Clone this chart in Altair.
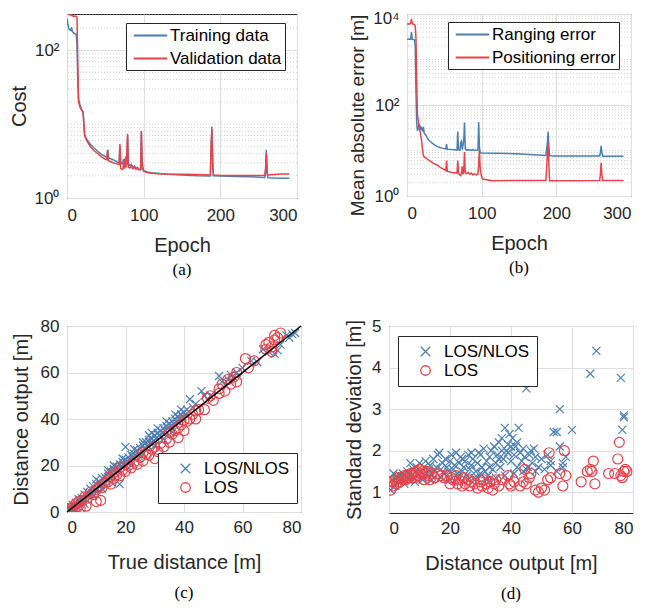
import altair as alt
import pandas as pd

BLUE = "#4b7fb3"
RED = "#e8424a"
INK = "#262626"
SANS = "Liberation Sans"
SERIF = "Liberation Serif"

# ---------------- (a) cost vs epoch ----------------
epoch_train = [0,1,2,3,5,6,7,9,12,13,14,15,17,19,21,22,23,25,30,35,40,45,50,52,53,54,60,65,68,69,
               70,72,74,75,77,78,79,80,82,84,86,88,90,92,94,96,97,98,100,105,110,120,130,150,170,187,188,189,190,191,
               200,220,240,258,259,260,261,262,270,280,290]
cost_train = [270,225,205,192,185,205,180,170,165,120,40,22,18,16,14.5,10,7.2,6.4,5.4,4.8,
              4.3,3.9,3.65,3.55,4.5,3.5,3.3,3.1,3.0,5.0,3.0,2.9,3.4,2.85,3.7,2.8,6.8,2.9,2.75,2.85,
              2.6,2.7,2.55,2.6,2.45,2.4,7.8,2.5,2.35,2.25,2.2,2.15,2.1,2.05,2.0,1.98,5.0,9.3,3.0,2.0,
              1.98,1.96,1.94,1.9,2.2,4.5,2.2,1.88,1.86,1.85,1.85]
epoch_val = [0,2,4,5,6,8,12,13,14,15,17,19,21,22,23,24,25,30,35,40,45,50,52,53,54,60,65,68,69,70,
             72,73,74,75,76,77,78,79,80,82,84,86,88,90,92,94,96,97,98,100,105,110,120,130,150,170,187,188,189,190,
             191,200,220,240,258,259,260,261,262,270,280,290]
cost_val = [350,320,300,360,300,290,290,280,80,20,17,15.5,14.5,10,7,6.6,6.2,5.0,4.4,4.0,
            3.6,3.35,3.3,4.5,3.2,3.0,2.9,2.85,5.4,2.5,2.45,2.5,3.0,2.5,3.4,2.6,3.9,7.4,2.6,2.55,
            2.7,2.5,2.6,2.45,2.5,2.4,2.45,8.1,3.0,2.3,2.2,2.17,2.13,2.11,2.1,2.08,2.05,5.0,8.6,3.0,
            2.05,2.03,2.02,2.02,2.03,2.5,4.0,2.3,2.05,2.08,2.12,2.12]

# ---------------- (b) mean absolute error vs epoch ----------------
epoch_rng = [0,3,5,6,7,9,10,11,12,13,14,15,16,17,18,19,20,21,22,23,25,28,30,35,40,45,50,52,53,54,
             60,66,67,68,69,71,72,73,74,76,77,78,80,84,86,88,90,93,95,96,97,98,100,120,146,170,186,188,189,190,
             191,200,230,258,259,260,261,262,290]
err_rng = [2800,2800,2800,4000,2800,2750,2700,2000,200,40,27,30,38,36,28,32,30,26,33,24,
           22,18,16.4,14,12.3,11.5,11,10.8,13.9,10.7,10.5,10.3,10.3,26,10.3,10.2,15,16,10.5,16.5,
           41,11,10.2,10.4,10,10.5,10,10.3,10,42,12,9,8.8,8.7,8.5,8.1,7.8,15,26,12,
           7.7,7.6,7.6,7.6,9,12.6,9,7.5,7.5]
epoch_pos = [0,4,5,6,7,10,11,12,13,14,16,18,19,20,21,22,24,26,30,35,40,45,50,52,53,54,60,67,68,69,
             72,73,74,75,76,77,78,80,82,84,86,88,90,93,95,96,97,98,100,101,105,114,146,186,188,189,190,191,200,258,
             259,260,261,262,290]
err_pos = [6000,6000,6500,7800,6200,5800,5500,3000,300,60,35,24,19.5,14,10,7.7,7.0,6.7,6.0,5.3,
           4.8,4.2,3.8,3.6,6.0,3.5,3.3,3.2,6.0,3.1,2.8,3.3,4.5,3.0,3.5,9.3,3.2,3.1,3.3,3.0,
           3.2,2.9,3.1,2.9,3.0,5,9.9,4,2.6,2.36,2.3,2.17,2.2,2.2,8,14.8,5,2.17,2.17,2.18,
           3,5.4,3,2.18,2.18]

# ---------------- (c) distance output vs true distance ----------------
c_los_nlos = [(0.5,1.5),(1,2.5),(1.5,0.8),(2,3),(2.5,1.5),(3,4),(3.5,2.5),(4,5.5),(4.5,3.5),(5,6),(5.5,4.5),
              (6,7.5),(6.5,5.5),(7,8.5),(7.5,7),(8,10),(8.5,8),(9,11),(9.5,9.5),(10,12),(10.5,10),(11,13),
              (11.5,11.5),(12,14.5),(12.5,12.5),(13,15),(13.5,14),(14,16.5),(14.5,15),(15,17.5),(15.5,16),
              (16,18.5),(16.5,17),(17,19.5),(17.5,18),(18,12),(18,20.5),(18.5,19.5),(19,21.5),(19.5,20),
              (20,28),(20,22.5),(20.5,21),(21,23.5),(21.5,22),(22,24.5),(22.5,23.5),(23,25),(23.5,24),
              (24,26.5),(24.5,25),(25,27.5),(25.5,26),(26,28.5),(26.5,27.5),(27,30),(27.5,28.5),(28,31),
              (28,33),(28.5,29.5),(29,31.5),(29.5,30.5),(30,33),(30.5,31.5),(31,34),(31.5,33),(32,35),
              (32.5,34),(33,36),(33.5,35),(34,37),(34.5,36),(35,38),(35.5,37),(36,39),(36.5,38),(37,40),
              (37.5,39),(38,41),(38.5,40),(39,42),(39.5,41),(40,43),(40.5,42),(41,44),(42,48.5),(43,45),
              (44,46.5),(46,52),(47,50),(49,50),(52,58.5),(53,56),(55,57),(56,59),(57,58),(58,60),(60,62),
              (63,65),(65,64.5),(67,70),(69,69),(71,68),(72,69.5),(73,72),(75,76),(76,75),(77,76.5),(78,77),
              (3,1.5),(6,3.5),(9,7),(12,10),(15,13),(22,20),(25,23.5),(30,28.5),(33,31.5),(36,34.5),
              (10,14),(14,18),(16,20),(19,23),(23,27),(26,30),(29,34),(31,36),(34,39),(37,42),(39,44)]
c_los = [(0.5,0.5),(1,1.5),(1.5,0.5),(2,2),(2.5,1),(3,3.5),(3.5,2),(4,4.5),(4.5,1.5),(5,5),(6,6.5),
         (6.5,2.5),(7,6),(8,8.5),(9,7.5),(10,9.5),(10,4.5),(11,11),(11.5,5),(12,10.5),(13,12.5),(14,13),
         (14.5,15),(15,12),(16,14.5),(17,16),(18,15.5),(19,18),(20,17.5),(21,20),(22,19),(23,21.5),
         (24,20.5),(25,23.5),(26,22),(27,25),(28,24.5),(29,27),(30,23),(30,28),(31,26),(32,29.5),(33,28),
         (34,31.5),(35,30),(36,33.5),(37,35),(38,32),(38,36),(39,37.5),(40,35),(41,39),(42,40),(43,42),
         (44,40),(45,44),(47,44),(48,49),(49,50),(50,48),(52,51),(52,53),(53,55),(54,52),(55,57),(56,55),
         (57,58),(58,60),(58,56),(61,66),(62,62),(64,65),(68,70),(68,72),(69,73),(70,71),(71,74),(71,76),
         (72,75),(73,77),(70,69),(16,17),(18,19),(26,25.5),(35,34.5),(40,39.5),(44,43.5)]
diag_ends = [0, 80]

# ---------------- (d) standard deviation vs distance output ----------------
d_los_nlos = [(0.5,1.05),(1,1.3),(1.5,1.45),(2,1.2),(2.5,1.35),(3,1.25),(3.5,1.4),(4,1.3),(4.5,1.45),(5,1.2),
              (5.5,1.35),(6,1.5),(6.5,1.3),(7,1.7),(7.5,1.4),(8,1.55),(8.5,1.25),(9,1.6),(9.5,1.45),(10,1.7),
              (10.5,1.5),(11,1.35),(11.5,1.6),(12,1.75),(12.5,1.45),(13,1.55),(13.5,1.65),(14,1.4),(14.5,1.8),
              (15,1.5),(15.5,1.6),(16,1.9),(16.5,1.95),(17,1.55),(17.5,1.7),(18,1.45),(18.5,1.8),(19,1.6),
              (19.5,1.5),(20,1.75),(20.5,1.9),(21,1.55),(21.5,1.65),(22,1.95),(22.5,1.45),(23,1.7),(23.5,1.85),
              (24,1.5),(24.5,1.6),(25,1.75),(25.5,1.4),(26,1.9),(26.5,1.55),(27,1.65),(27.5,1.8),(28,1.35),
              (28.5,1.5),(29,1.7),(29.5,1.95),(30,1.45),(30.5,1.6),(31,2.05),(31.5,1.5),(32,1.75),(32.5,1.4),
              (33,1.85),(33.5,2.0),(34,1.55),(34.5,2.1),(35,1.7),(35.5,1.9),(36,2.2),(36.5,1.6),(37,2.3),
              (37.5,1.8),(38,2.55),(38.5,2.0),(39,2.15),(39.5,2.4),(40,1.75),(40.5,2.3),(41,1.9),(41.5,2.1),
              (42,1.6),(42.5,2.55),(43,1.95),(43.5,1.75),(44,2.05),(44.5,1.85),(45,3.5),(45.5,1.6),(46,1.9),
              (46.5,2.0),(47,1.7),(47.5,2.05),(48,1.85),(49,1.6),(50,1.8),(52,1.9),(53,1.75),(54,2.45),
              (55,2.45),(56,3.0),(56,2.1),(57,1.6),(58,1.85),(60,2.5),(66,3.85),(68,4.4),(76,3.75),(77,2.85),
              (77,2.8),(76.5,2.5),(2,1.15),(5,1.3),(8,1.35),(11,1.3),(14,1.3),(17,1.35),(20,1.3),(23,1.35),
              (26,1.3),(29,1.35),(32,1.3),(35,1.35),(38,1.4),(41,1.45),(44,1.5),(24,1.8),(27,1.95),(30,1.9),
              (33,1.6),(36,1.8),(39,1.95),(37,2.0),(40,2.1),(42,2.2),(45,1.55),(48,1.5),(51,1.55),(53,1.65),
              (55,1.5),(57,1.7)]
d_los = [(0.5,1.05),(1,1.25),(1.5,1.15),(2,1.3),(2.5,1.2),(3,1.35),(3.5,1.25),(4,1.35),(4.5,1.3),(5,1.4),
         (5.5,1.3),(6,1.4),(6.5,1.35),(7,1.45),(7.5,1.4),(8,1.45),(8.5,1.35),(9,1.5),(9.5,1.4),(10,1.55),
         (10.5,1.45),(11,1.5),(11.5,1.3),(12,1.45),(12.5,1.5),(13,1.4),(13.5,1.3),(14,1.45),(15,1.35),
         (16,1.45),(17,1.4),(18,1.35),(19,1.4),(20,1.2),(20.5,1.35),(21,1.3),(22,1.4),(22.5,1.2),(23,1.3),
         (24,1.15),(24.5,1.35),(25,1.2),(26,1.3),(26.5,1.15),(27,1.25),(28,1.2),(29,1.1),(30,1.25),
         (30.5,1.15),(31,1.3),(32,1.2),(32.5,1.1),(33,1.25),(34,1.05),(34.5,1.2),(35,1.3),(36,1.15),
         (37,1.3),(39,1.4),(39.5,1.2),(40,1.15),(41,1.25),(43,1.15),(44,1.25),(44.5,1.55),(45,1.2),
         (46,1.35),(46.5,1.45),(48,1.05),(49,1.0),(50,1.1),(51,1.05),(52,1.3),(52.5,1.95),(53,1.35),
         (56,1.45),(57,1.15),(57.5,2.0),(58,1.4),(63,1.25),(65,1.5),(66,1.55),(66.5,1.5),(67,1.75),
         (67.5,1.2),(72,1.45),(74,1.45),(75,1.8),(75.5,2.2),(76,1.4),(76.5,1.35),(77,1.5),(77.5,1.55),(78,1.5)]

# axis tick values / grid values
epoch_ticks = [0, 100, 200, 300]
a_major = [1, 100]
a_minor = [2,3,4,5,6,7,8,9,10,20,30,40,50,60,70,80,90,200,300]
b_major = [1, 100, 10000]
b_minor = [2,3,4,5,6,7,8,9,10,20,30,40,50,60,70,80,90,200,300,400,500,600,700,800,900,
           1000,2000,3000,4000,5000,6000,7000,8000,9000]
dist_ticks = [0, 20, 40, 60, 80]
std_ticks = [1, 2, 3, 4, 5]

XPATH = "M-1,-1L1,1M-1,1L1,-1"
LINE_SYMBOL = "M-2,0L2,0"
POW_EXPR = "datum.value == 1 ? '10\u2070' : datum.value == 100 ? '10\u00b2' : '10\u2074'"
TOP_LABEL_SHIFT = {"condition": {"test": "datum.value == 10000", "value": 4}, "value": 0}


def caption(t, off):
    return alt.TitleParams(t, orient="bottom", font=SERIF, fontSize=17, fontWeight="normal",
                           color="black", anchor="middle", offset=off)


def line_panel(ep1, v1, ep2, v2, names, ydom, ymajor, yminor, ytitle, w, h, lx, ly, cap,
               ytitle_size=20, ytitle_y=None):
    df = pd.concat([pd.DataFrame({"epoch": ep1, "v": v1, "s": names[0]}),
                    pd.DataFrame({"epoch": ep2, "v": v2, "s": names[1]})])
    ys = alt.Scale(type="log", domain=ydom, nice=False)
    xs = alt.Scale(domain=[0, 300], nice=False)
    ykw = dict(values=ymajor, labelExpr=POW_EXPR, title=ytitle, labelPadding=8, titlePadding=5,
               titleFontSize=ytitle_size, labelOffset=TOP_LABEL_SHIFT)
    if ytitle_y is not None:
        ykw["titleY"] = ytitle_y
    yaxis = alt.Axis(**ykw)
    xaxis = alt.Axis(values=epoch_ticks, title="Epoch", labelPadding=9, titlePadding=12)
    minor = alt.Chart(pd.DataFrame({"m": yminor})).mark_rule(
        color="#c6c6c6", strokeDash=[1, 2], strokeWidth=0.8).encode(
        y=alt.Y("m:Q", scale=ys, axis=yaxis))
    leg = alt.Legend(title=None, orient="none", legendX=lx, legendY=ly, symbolType=LINE_SYMBOL,
                     symbolSize=280, symbolStrokeWidth=2, fillColor="white", strokeColor=INK,
                     padding=3, symbolOffset=12, labelOffset=10, labelFontSize=17, labelFont=SANS,
                     labelColor="black", labelLimit=300, rowPadding=5)
    col = alt.Color("s:N", scale=alt.Scale(domain=names, range=[BLUE, RED]), legend=leg)
    enc = dict(
        x=alt.X("epoch:Q", scale=xs, axis=xaxis),
        y=alt.Y("v:Q", scale=ys, axis=yaxis),
        color=col)
    l1 = alt.Chart(df).transform_filter(alt.datum.s == names[0]).mark_line(
        clip=True, strokeWidth=1.5).encode(**enc)
    l2 = alt.Chart(df).transform_filter(alt.datum.s == names[1]).mark_line(
        clip=True, strokeWidth=1.5).encode(**enc)
    return alt.layer(minor, l1, l2).properties(width=w, height=h, title=caption(cap, 7))


def scatter_panel(p_nl, p_los, xtitle, ytitle, ydom, yticks, w, h, lx, ly, cap, ytp, diag=False):
    names = ["LOS/NLOS", "LOS"]
    df = pd.concat([pd.DataFrame({"x": [p[0] for p in p_nl], "y": [p[1] for p in p_nl], "s": names[0]}),
                    pd.DataFrame({"x": [p[0] for p in p_los], "y": [p[1] for p in p_los], "s": names[1]})])
    xs = alt.Scale(domain=[0, 80], nice=False)
    ys = alt.Scale(domain=ydom, nice=False)
    leg = alt.Legend(title=None, orient="none", legendX=lx, legendY=ly, fillColor="white",
                     strokeColor=INK, padding=7, labelFontSize=17, labelFont=SANS, labelColor="black",
                     symbolSize=90, symbolStrokeWidth=1.3, symbolOffset=12, labelOffset=10,
                     rowPadding=1)
    xaxis = alt.Axis(values=dist_ticks, title=xtitle, labelPadding=7, titlePadding=17)
    yaxis = alt.Axis(values=yticks, title=ytitle, labelPadding=8, titlePadding=ytp)
    enc = dict(
        x=alt.X("x:Q", scale=xs, axis=xaxis),
        y=alt.Y("y:Q", scale=ys, axis=yaxis),
        color=alt.Color("s:N", scale=alt.Scale(domain=names, range=[BLUE, RED]), legend=leg),
        shape=alt.Shape("s:N", scale=alt.Scale(domain=names, range=[XPATH, "circle"]), legend=leg))
    p1 = alt.Chart(df).transform_filter(alt.datum.s == names[0]).mark_point(
        filled=False, size=64, strokeWidth=1.2, opacity=1, clip=True).encode(**enc)
    p2 = alt.Chart(df).transform_filter(alt.datum.s == names[1]).mark_point(
        filled=False, size=100, strokeWidth=1.2, opacity=1, clip=True).encode(**enc)
    layers = [p1, p2]
    if diag:
        dl = alt.Chart(pd.DataFrame({"x": diag_ends, "y": diag_ends})).mark_line(
            color="black", strokeWidth=1.5).encode(x=alt.X("x:Q", scale=xs, axis=xaxis),
                                                   y=alt.Y("y:Q", scale=ys, axis=yaxis))
        layers.append(dl)
    return alt.layer(*layers).properties(width=w, height=h, title=caption(cap, 13))


pa = line_panel(epoch_train, cost_train, epoch_val, cost_val, ["Training data", "Validation data"],
                [1, 310], a_major, a_minor, "Cost", 230, 184, 59, 9, "(a)")
pb = line_panel(epoch_rng, err_rng, epoch_pos, err_pos, ["Ranging error", "Positioning error"],
                [1, 10000], b_major, b_minor, "Mean absolute error [m]", 224, 182, 41, 8, "(b)",
                ytitle_size=19, ytitle_y=101)
pc = scatter_panel(c_los_nlos, c_los, "True distance [m]", "Distance output [m]", [0, 80], dist_ticks,
                   234, 186, 91, 127, "(c)", ytp=9, diag=True)
pd_ = scatter_panel(d_los_nlos, d_los, "Distance output [m]", "Standard deviation [m]", [0.5, 5], std_ticks,
                    244, 187, 9, 10, "(d)", ytp=7)

RES = dict(color="independent", shape="independent", x="independent", y="independent")
top = alt.hconcat(pa, pb, spacing=110, bounds="flush").resolve_scale(**RES)
bottom = alt.hconcat(pc, pd_, spacing=88, bounds="flush").resolve_scale(**RES)

chart = alt.vconcat(top, bottom, spacing=37).resolve_scale(**RES).properties(
    padding={"left": 0, "top": 0, "right": 0, "bottom": 0}
).configure_view(
    stroke=INK, strokeWidth=1
).configure_axis(
    labelFont=SANS, titleFont=SANS, labelFontSize=17, titleFontSize=20, titleFontWeight="normal",
    labelColor=INK, titleColor=INK, gridColor="#dedede", gridWidth=1, domain=False, ticks=False
)

chart.save("out.html", embed_options={"renderer": "svg", "actions": False})
